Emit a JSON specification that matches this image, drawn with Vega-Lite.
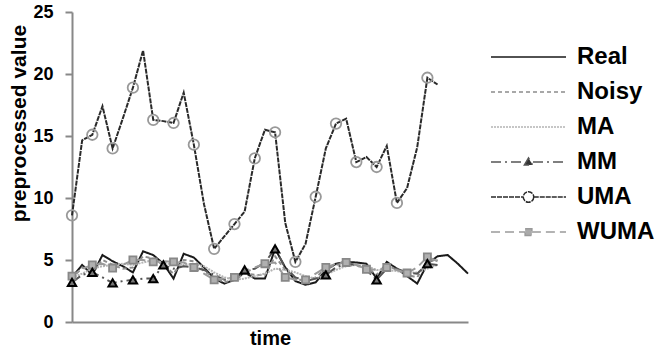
{
  "$schema": "https://vega.github.io/schema/vega-lite/v6.json",
  "width": 396,
  "height": 310,
  "autosize": {"type": "none"},
  "padding": {"left": 72, "top": 12, "right": 187, "bottom": 40},
  "background": "white",
  "config": {
    "font": "Liberation Sans",
    "view": {"stroke": null},
    "axis": {"grid": false}
  },
  "datasets": {
    "lines": [
      {"t": 0, "Real": 3.6, "Noisy": 3.5, "MA": 3.6, "MM": 3.2, "UMA": 8.6, "WUMA": 3.7},
      {"t": 1, "Real": 4.6, "Noisy": 4.4, "MA": 3.9, "MM": 3.8, "UMA": 14.65, "WUMA": 4.3},
      {"t": 2, "Real": 3.8, "Noisy": 4.1, "MA": 4.3, "MM": 4.0, "UMA": 15.1, "WUMA": 4.6},
      {"t": 3, "Real": 5.4, "Noisy": 5.0, "MA": 4.5, "MM": 3.6, "UMA": 17.4, "WUMA": 4.7},
      {"t": 4, "Real": 4.9, "Noisy": 4.6, "MA": 4.6, "MM": 3.15, "UMA": 14.0, "WUMA": 4.35},
      {"t": 5, "Real": 4.5, "Noisy": 4.3, "MA": 4.7, "MM": 3.3, "UMA": 16.4, "WUMA": 4.6},
      {"t": 6, "Real": 4.0, "Noisy": 4.4, "MA": 4.6, "MM": 3.4, "UMA": 18.9, "WUMA": 5.0},
      {"t": 7, "Real": 5.7, "Noisy": 5.3, "MA": 4.8, "MM": 3.5, "UMA": 21.9, "WUMA": 5.0},
      {"t": 8, "Real": 5.4, "Noisy": 5.1, "MA": 5.0, "MM": 3.5, "UMA": 16.3, "WUMA": 4.85},
      {"t": 9, "Real": 4.7, "Noisy": 4.6, "MA": 4.8, "MM": 4.6, "UMA": 16.2, "WUMA": 4.9},
      {"t": 10, "Real": 3.5, "Noisy": 3.9, "MA": 4.6, "MM": 4.3, "UMA": 16.05, "WUMA": 4.85},
      {"t": 11, "Real": 5.5, "Noisy": 5.0, "MA": 4.6, "MM": 4.5, "UMA": 18.5, "WUMA": 4.8},
      {"t": 12, "Real": 5.2, "Noisy": 4.9, "MA": 4.7, "MM": 4.4, "UMA": 14.3, "WUMA": 4.4},
      {"t": 13, "Real": 4.4, "Noisy": 4.1, "MA": 4.5, "MM": 4.2, "UMA": 9.5, "WUMA": 3.9},
      {"t": 14, "Real": 3.5, "Noisy": 3.6, "MA": 4.0, "MM": 3.8, "UMA": 5.9, "WUMA": 3.4},
      {"t": 15, "Real": 3.1, "Noisy": 3.2, "MA": 3.6, "MM": 3.4, "UMA": 6.9, "WUMA": 3.5},
      {"t": 16, "Real": 3.4, "Noisy": 3.4, "MA": 3.4, "MM": 3.5, "UMA": 7.9, "WUMA": 3.6},
      {"t": 17, "Real": 4.0, "Noisy": 3.9, "MA": 3.5, "MM": 4.2, "UMA": 8.9, "WUMA": 3.9},
      {"t": 18, "Real": 3.5, "Noisy": 3.8, "MA": 3.7, "MM": 4.3, "UMA": 13.2, "WUMA": 4.4},
      {"t": 19, "Real": 3.5, "Noisy": 3.8, "MA": 3.9, "MM": 4.8, "UMA": 15.5, "WUMA": 4.7},
      {"t": 20, "Real": 5.9, "Noisy": 5.3, "MA": 4.3, "MM": 5.9, "UMA": 15.3, "WUMA": 4.8},
      {"t": 21, "Real": 4.4, "Noisy": 4.2, "MA": 4.2, "MM": 4.4, "UMA": 8.0, "WUMA": 3.6},
      {"t": 22, "Real": 3.3, "Noisy": 3.5, "MA": 4.0, "MM": 3.6, "UMA": 4.85, "WUMA": 3.4},
      {"t": 23, "Real": 3.0, "Noisy": 3.3, "MA": 3.7, "MM": 3.3, "UMA": 6.3, "WUMA": 3.4},
      {"t": 24, "Real": 3.2, "Noisy": 3.6, "MA": 3.5, "MM": 3.5, "UMA": 10.1, "WUMA": 3.9},
      {"t": 25, "Real": 4.2, "Noisy": 4.3, "MA": 3.8, "MM": 3.8, "UMA": 14.0, "WUMA": 4.4},
      {"t": 26, "Real": 4.7, "Noisy": 4.6, "MA": 4.2, "MM": 4.4, "UMA": 16.0, "WUMA": 4.7},
      {"t": 27, "Real": 4.85, "Noisy": 4.8, "MA": 4.5, "MM": 4.7, "UMA": 16.4, "WUMA": 4.8},
      {"t": 28, "Real": 4.8, "Noisy": 4.6, "MA": 4.6, "MM": 4.6, "UMA": 12.9, "WUMA": 4.6},
      {"t": 29, "Real": 4.7, "Noisy": 4.4, "MA": 4.5, "MM": 4.2, "UMA": 13.3, "WUMA": 4.25},
      {"t": 30, "Real": 3.5, "Noisy": 3.8, "MA": 4.2, "MM": 3.4, "UMA": 12.5, "WUMA": 4.2},
      {"t": 31, "Real": 4.85, "Noisy": 4.6, "MA": 4.2, "MM": 4.3, "UMA": 14.2, "WUMA": 4.4},
      {"t": 32, "Real": 4.3, "Noisy": 4.2, "MA": 4.1, "MM": 4.3, "UMA": 9.6, "WUMA": 4.2},
      {"t": 33, "Real": 3.7, "Noisy": 3.8, "MA": 4.0, "MM": 4.0, "UMA": 10.8, "WUMA": 3.95},
      {"t": 34, "Real": 3.1, "Noisy": 3.6, "MA": 4.0, "MM": 3.9, "UMA": 14.1, "WUMA": 4.4},
      {"t": 35, "Real": 4.7, "Noisy": 4.9, "MA": 4.3, "MM": 4.7, "UMA": 19.7, "WUMA": 5.25},
      {"t": 36, "Real": 5.3, "Noisy": 5.0, "MA": 4.6, "MM": 4.6, "UMA": 19.15, "WUMA": 4.9},
      {"t": 37, "Real": 5.4},
      {"t": 38, "Real": 4.7},
      {"t": 39, "Real": 3.9}
    ],
    "markers": [
      {"t": 0, "curve": "MM", "value": 3.2},
      {"t": 2, "curve": "MM", "value": 4.0},
      {"t": 4, "curve": "MM", "value": 3.15},
      {"t": 6, "curve": "MM", "value": 3.4},
      {"t": 8, "curve": "MM", "value": 3.5},
      {"t": 9, "curve": "MM", "value": 4.6},
      {"t": 17, "curve": "MM", "value": 4.2},
      {"t": 20, "curve": "MM", "value": 5.9},
      {"t": 25, "curve": "MM", "value": 3.8},
      {"t": 30, "curve": "MM", "value": 3.4},
      {"t": 35, "curve": "MM", "value": 4.7},
      {"t": 0, "curve": "UMA", "value": 8.6},
      {"t": 2, "curve": "UMA", "value": 15.1},
      {"t": 4, "curve": "UMA", "value": 14.0},
      {"t": 6, "curve": "UMA", "value": 18.9},
      {"t": 8, "curve": "UMA", "value": 16.3},
      {"t": 10, "curve": "UMA", "value": 16.05},
      {"t": 12, "curve": "UMA", "value": 14.3},
      {"t": 14, "curve": "UMA", "value": 5.9},
      {"t": 16, "curve": "UMA", "value": 7.9},
      {"t": 18, "curve": "UMA", "value": 13.2},
      {"t": 20, "curve": "UMA", "value": 15.3},
      {"t": 22, "curve": "UMA", "value": 4.85},
      {"t": 24, "curve": "UMA", "value": 10.1},
      {"t": 26, "curve": "UMA", "value": 16.0},
      {"t": 28, "curve": "UMA", "value": 12.9},
      {"t": 30, "curve": "UMA", "value": 12.5},
      {"t": 32, "curve": "UMA", "value": 9.6},
      {"t": 35, "curve": "UMA", "value": 19.7},
      {"t": 0, "curve": "WUMA", "value": 3.7},
      {"t": 2, "curve": "WUMA", "value": 4.6},
      {"t": 4, "curve": "WUMA", "value": 4.35},
      {"t": 6, "curve": "WUMA", "value": 5.0},
      {"t": 8, "curve": "WUMA", "value": 4.85},
      {"t": 10, "curve": "WUMA", "value": 4.85},
      {"t": 12, "curve": "WUMA", "value": 4.4},
      {"t": 14, "curve": "WUMA", "value": 3.4},
      {"t": 16, "curve": "WUMA", "value": 3.6},
      {"t": 19, "curve": "WUMA", "value": 4.7},
      {"t": 21, "curve": "WUMA", "value": 3.6},
      {"t": 23, "curve": "WUMA", "value": 3.4},
      {"t": 25, "curve": "WUMA", "value": 4.4},
      {"t": 27, "curve": "WUMA", "value": 4.8},
      {"t": 29, "curve": "WUMA", "value": 4.25},
      {"t": 31, "curve": "WUMA", "value": 4.4},
      {"t": 33, "curve": "WUMA", "value": 3.95},
      {"t": 35, "curve": "WUMA", "value": 5.25}
    ]
  },
  "layer": [
    {
      "data": {"name": "lines"},
      "transform": [
        {"fold": ["Real", "Noisy", "MA", "MM", "UMA", "WUMA"], "as": ["series", "value"]},
        {"filter": "datum.value != null"}
      ],
      "mark": {"type": "line", "strokeJoin": "miter"},
      "encoding": {
        "x": {
          "field": "t", "type": "quantitative",
          "scale": {"domain": [0, 39], "nice": false, "zero": false},
          "axis": {"labels": false, "ticks": false, "domainColor": "#888888", "domainWidth": 2, "title": "time", "titleFontSize": 20, "titleFontWeight": "bold", "titleColor": "#000000", "titlePadding": 6}
        },
        "y": {
          "field": "value", "type": "quantitative",
          "scale": {"domain": [0, 25], "nice": false},
          "axis": {"values": [0, 5, 10, 15, 20, 25], "domainColor": "#888888", "domainWidth": 2, "tickColor": "#888888", "tickWidth": 2, "tickSize": 7, "labelFontSize": 18, "labelFontWeight": "bold", "labelColor": "#000000", "labelPadding": 12, "title": "preprocessed value", "titleFontSize": 21, "titleFontWeight": "bold", "titleColor": "#000000", "titlePadding": 3, "titleY": 111}
        },
        "color": {
          "field": "series", "type": "nominal",
          "scale": {"domain": ["Real", "Noisy", "MA", "MM", "UMA", "WUMA"], "range": ["#1a1a1a", "#8c8c8c", "#b4b4b4", "#555555", "#2a2a2a", "#9a9a9a"]},
          "legend": {
            "orient": "none", "legendX": 418, "legendY": 33, "title": null,
            "symbolType": "stroke", "symbolSize": 5625, "symbolStrokeWidth": 1.5,
            "labelFontSize": 24, "labelFontWeight": "bold", "labelColor": "#000000", "labelOffset": 10,
            "clipHeight": 24, "rowPadding": 11, "padding": 0,
            "encode": {
              "symbols": {
                "update": {
                  "shape": {"signal": "datum.value === 'MM' ? 'M-1,0H-0.12M0.12,0H1M-0.11,0.08L0,-0.11L0.11,0.08Z' : datum.value === 'UMA' ? 'M-1,0H-0.14M0.14,0H1M0.14,0A0.14,0.14 0 1,1 -0.14,0A0.14,0.14 0 1,1 0.14,0' : datum.value === 'WUMA' ? 'M-1,0H-0.09M0.09,0H1M-0.09,-0.09H0.09V0.09H-0.09Z' : 'M-1,0H1'"},
                  "fill": {"signal": "datum.value === 'MM' ? '#333333' : datum.value === 'WUMA' ? '#aaaaaa' : 'transparent'"}
                }
              }
            }
          }
        },
        "strokeDash": {
          "field": "series", "type": "nominal",
          "scale": {"domain": ["Real", "Noisy", "MA", "MM", "UMA", "WUMA"], "range": [[1, 0], [4, 3], [2, 1], [10, 4, 2, 4], [5, 1], [9, 5]]}
        },
        "order": {"field": "t", "type": "quantitative"}
      }
    },
    {
      "data": {"name": "markers"},
      "transform": [{"filter": "datum.curve == 'UMA'"}],
      "mark": {"type": "point", "shape": "circle", "size": 110, "stroke": "#999999", "strokeWidth": 1.8, "fill": "transparent", "opacity": 1},
      "encoding": {
        "x": {"field": "t", "type": "quantitative"},
        "y": {"field": "value", "type": "quantitative"}
      }
    },
    {
      "data": {"name": "markers"},
      "transform": [{"filter": "datum.curve == 'WUMA'"}],
      "mark": {"type": "point", "shape": "square", "size": 50, "stroke": "#888888", "strokeWidth": 1.8, "fill": "#b0b0b0", "opacity": 1},
      "encoding": {
        "x": {"field": "t", "type": "quantitative"},
        "y": {"field": "value", "type": "quantitative"}
      }
    },
    {
      "data": {"name": "markers"},
      "transform": [{"filter": "datum.curve == 'MM'"}],
      "mark": {"type": "point", "shape": "triangle-up", "size": 70, "stroke": "#000000", "strokeWidth": 2, "fill": "#777777", "opacity": 1},
      "encoding": {
        "x": {"field": "t", "type": "quantitative"},
        "y": {"field": "value", "type": "quantitative"}
      }
    }
  ]
}
